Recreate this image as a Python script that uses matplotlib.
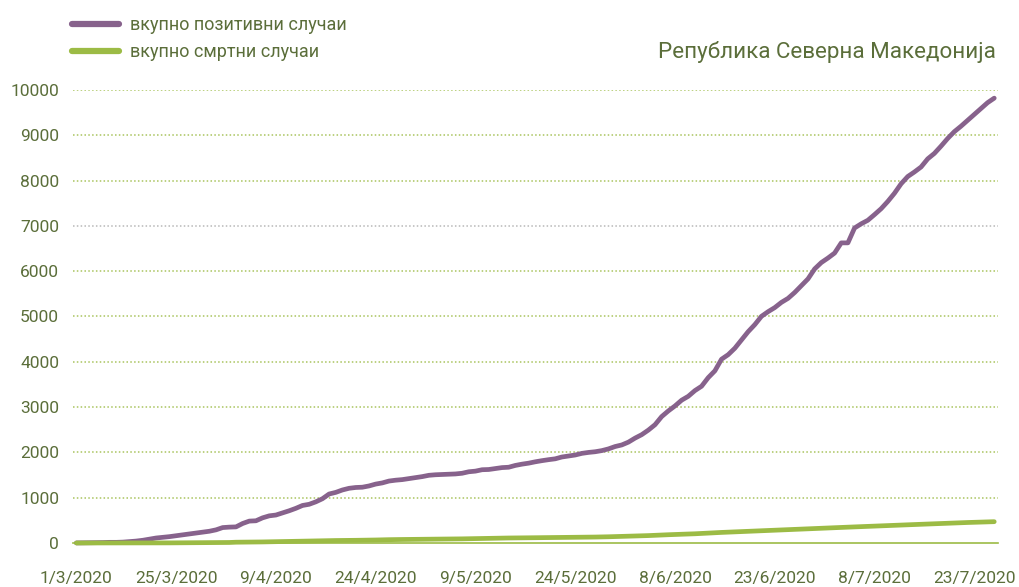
import matplotlib
matplotlib.use("Agg")
import matplotlib.pyplot as plt

# x categories (first point, then daily from 11/3/2020)
tick_labels = ["1/3/2020", "25/3/2020", "9/4/2020", "24/4/2020", "9/5/2020",
               "24/5/2020", "8/6/2020", "23/6/2020", "8/7/2020", "23/7/2020"]

positive = [1, 3, 7, 7, 9, 14, 14, 19, 31, 42,
            60, 85, 110, 125, 140, 160, 180, 201, 219, 241,
            259, 290, 340, 350, 355, 430, 483, 490, 555, 599,
            617, 663, 711, 765, 828, 854, 908, 977, 1081, 1117,
            1170, 1207, 1225, 1231, 1259, 1300, 1326, 1367, 1386, 1399,
            1421, 1442, 1465, 1494, 1506, 1511, 1518, 1524, 1539, 1572,
            1586, 1617, 1622, 1642, 1664, 1672, 1712, 1740, 1762, 1792,
            1817, 1839, 1858, 1898, 1921, 1942, 1978, 1999, 2014, 2039,
            2077, 2129, 2164, 2226, 2315, 2391, 2492, 2611, 2790, 2915,
            3025, 3152, 3238, 3364, 3460, 3650, 3800, 4057, 4157, 4299,
            4482, 4664, 4820, 5003, 5106, 5196, 5311, 5400, 5530, 5680,
            5830, 6050, 6190, 6290, 6400, 6625, 6625, 6953, 7046, 7124,
            7249, 7380, 7540, 7720, 7930, 8090, 8190, 8300, 8480, 8600,
            8760, 8930, 9080, 9200, 9330, 9460, 9590, 9720, 9820]

deaths = [0, 0, 0, 0, 0, 0, 0, 0, 0, 0,
          0, 0, 1, 1, 2, 3, 3, 4, 6, 7,
          9, 10, 11, 11, 17, 18, 21, 21, 23, 26,
          30, 32, 34, 38, 40, 44, 46, 49, 51, 54,
          55, 56, 59, 61, 64, 66, 70, 73, 74, 77,
          79, 81, 82, 84, 85, 86, 88, 90, 91, 94,
          97, 100, 103, 106, 108, 110, 111, 113, 114, 116,
          118, 119, 121, 122, 124, 126, 127, 129, 131, 133,
          137, 141, 145, 149, 153, 159, 163, 170, 176, 182,
          188, 193, 198, 203, 211, 219, 227, 233, 239, 246,
          253, 259, 265, 271, 277, 282, 287, 293, 299, 305,
          311, 317, 323, 330, 336, 343, 350, 355, 361, 367,
          373, 378, 384, 390, 396, 401, 407, 412, 418, 424,
          430, 436, 441, 447, 452, 457, 462, 466, 470]

purple = "#87628c"
green = "#9cbb45"
text_col = "#5b6e3a"

plt.rcParams["font.family"] = ["Roboto", "DejaVu Sans"]

fig = plt.figure(figsize=(10.2, 5.87), dpi=100)
ax = fig.add_axes([0.0716, 0.075, 0.9064, 0.7717])

x = list(range(len(positive)))
ax.plot(x, positive, color=purple, lw=3.4, solid_capstyle="round",
        solid_joinstyle="round", label="вкупно позитивни случаи", clip_on=False, zorder=3)
ax.plot(x, deaths, color=green, lw=3.4, solid_capstyle="round",
        solid_joinstyle="round", label="вкупно смртни случаи", clip_on=False, zorder=4)

ax.set_xlim(-0.5, len(positive) - 0.5)
ax.set_ylim(0, 10000)
ax.set_yticks(range(0, 10001, 1000))
ax.set_xticks(range(0, 15 * len(tick_labels), 15))
ax.set_xticklabels(tick_labels)

for v in range(1000, 10001, 1000):
    c = "#b8b8b8" if v == 7000 else "#a9c45e"
    ax.axhline(v, color=c, lw=1.1, ls=(0, (1, 1.5)), zorder=1)

for s in ["top", "right", "left"]:
    ax.spines[s].set_visible(False)
ax.spines["bottom"].set_color(green)
ax.spines["bottom"].set_linewidth(1.2)
ax.tick_params(axis="both", length=0, colors=text_col, labelsize=12.5)
ax.tick_params(axis="x", pad=20)
ax.tick_params(axis="y", pad=10)

fig.text(0.976, 0.911, "Република Северна Македонија", ha="right", va="center",
         fontsize=16.1, color=text_col)

leg = fig.legend(loc="upper left", bbox_to_anchor=(0.055, 1.0), frameon=False,
                 fontsize=13, handlelength=2.6, handletextpad=0.6, labelspacing=0.5)
for t in leg.get_texts():
    t.set_color(text_col)
for h in leg.get_lines():
    h.set_linewidth(4.5)
    h.set_solid_capstyle("round")

fig.savefig("out.png", dpi=100)
